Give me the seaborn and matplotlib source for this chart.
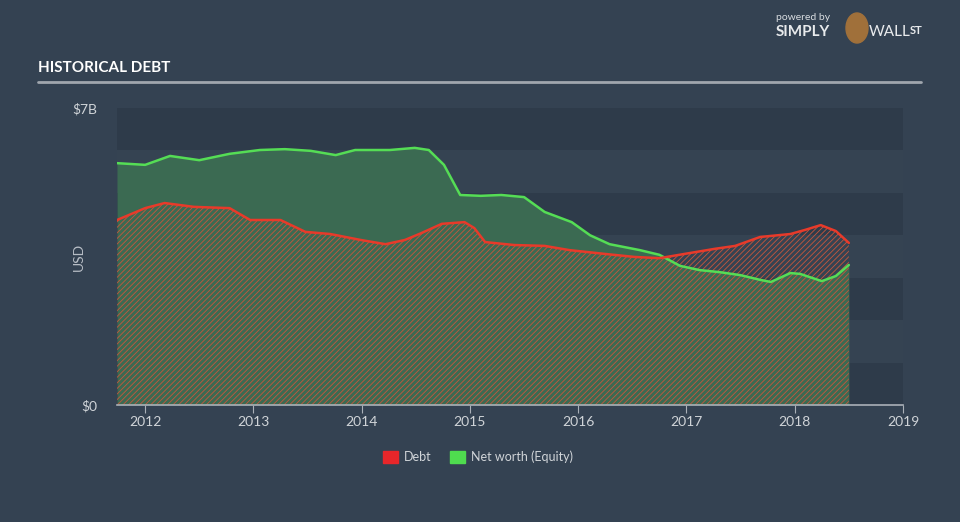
import pandas as pd
import matplotlib.pyplot as plt
import seaborn as sns
from matplotlib.patches import Patch, Ellipse

# Values (year as decimal, USD billions)
debt_year = [2011.74, 2012.0, 2012.18, 2012.45, 2012.78, 2012.97, 2013.25, 2013.48,
             2013.71, 2013.99, 2014.22, 2014.40, 2014.55, 2014.74, 2014.95, 2015.04,
             2015.14, 2015.41, 2015.69, 2015.92, 2016.25, 2016.52, 2016.75, 2016.98,
             2017.26, 2017.45, 2017.68, 2017.96, 2018.10, 2018.24, 2018.38, 2018.50]
debt_val = [4.36, 4.64, 4.76, 4.67, 4.64, 4.36, 4.36, 4.08,
            4.03, 3.89, 3.79, 3.89, 4.05, 4.27, 4.31, 4.17,
            3.84, 3.77, 3.75, 3.65, 3.56, 3.49, 3.46, 3.56,
            3.68, 3.75, 3.96, 4.03, 4.13, 4.24, 4.10, 3.82]

equity_year = [2011.74, 2012.0, 2012.23, 2012.50, 2012.78, 2013.06, 2013.29, 2013.53,
               2013.76, 2013.94, 2014.26, 2014.49, 2014.62, 2014.76, 2014.91, 2015.10,
               2015.29, 2015.50, 2015.69, 2015.94, 2016.11, 2016.29, 2016.57, 2016.75,
               2016.94, 2017.12, 2017.31, 2017.50, 2017.68, 2017.78, 2017.96, 2018.05,
               2018.25, 2018.38, 2018.50]
equity_val = [5.70, 5.66, 5.87, 5.77, 5.92, 6.01, 6.03, 5.99,
              5.89, 6.01, 6.01, 6.06, 6.01, 5.66, 4.95, 4.93,
              4.95, 4.90, 4.55, 4.31, 4.00, 3.79, 3.65, 3.54,
              3.28, 3.18, 3.13, 3.06, 2.95, 2.90, 3.11, 3.09,
              2.92, 3.04, 3.30]

year_ticks = [2012, 2013, 2014, 2015, 2016, 2017, 2018, 2019]

debt = pd.DataFrame({"year": debt_year, "value": debt_val})
equity = pd.DataFrame({"year": equity_year, "value": equity_val})

bg = "#344252"
sns.set_style("dark", {"axes.facecolor": "#354352", "figure.facecolor": bg})
plt.rcParams["font.family"] = ["Lato", "DejaVu Sans"]
plt.rcParams["hatch.linewidth"] = 0.6

fig = plt.figure(figsize=(9.6, 5.22), dpi=100)
ax = fig.add_axes([117 / 960, 1 - 405 / 522, 786 / 960, 297 / 522])

# alternating horizontal bands
for b in [0, 2, 4, 6]:
    ax.axhspan(b, b + 1, color="#2e3b4a", lw=0, zorder=0)

# fills
ax.fill_between(equity["year"], 0, equity["value"], color="#3b6a52", lw=0, zorder=1)
ax.fill_between(debt["year"], 0, debt["value"], facecolor="none",
                edgecolor="#c8563c", hatch="//////", lw=0, zorder=2)

sns.lineplot(data=equity, x="year", y="value", color="#55dd55", lw=1.8, ax=ax, zorder=3)
sns.lineplot(data=debt, x="year", y="value", color="#e83a2a", lw=1.8, ax=ax, zorder=3)

ax.set_xlim(2011.74, 2019.0)
ax.set_ylim(0, 7)
ax.set_xticks(year_ticks)
ax.set_xticklabels([str(y) for y in year_ticks], color="#d0d4d8", fontsize=10)
ax.set_yticks([0, 7])
ax.set_yticklabels(["$0", "$7B"], color="#d0d4d8", fontsize=10)
ax.tick_params(axis="x", length=6, color="#aab0b8", direction="out", bottom=True, pad=2)
ax.tick_params(axis="y", length=0, pad=14)
ax.set_xlabel("")
ax.set_ylabel("USD", color="#b8bec6", fontsize=10)
ax.yaxis.set_label_coords(-32 / 786, 0.5)
for s in ["top", "right", "left"]:
    ax.spines[s].set_visible(False)
ax.spines["bottom"].set_color("#aab0b8")
ax.spines["bottom"].set_linewidth(1.2)
ax.grid(False)

# header
fig.text(38 / 960, 1 - 68 / 522, "HISTORICAL DEBT", color="white", fontsize=11,
         fontweight="bold", family=["Lato", "DejaVu Sans"],
         va="center", ha="left")
fig.add_artist(plt.Line2D([38 / 960, 921 / 960], [1 - 82 / 522, 1 - 82 / 522],
                          color="#a0a6ae", lw=2))
fig.text(776 / 960, 1 - 18 / 522, "powered by", color="#d8dce0", fontsize=7.5,
         ha="left", va="center")
fig.text(776 / 960, 1 - 32 / 522, "SIMPLY", color="#e8eaec", fontsize=11,
         fontweight="bold", ha="left", va="center")
fig.add_artist(Ellipse((857 / 960, 1 - 28 / 522), 22 / 960, 30 / 522,
                       color="#a0703a", transform=fig.transFigure))
fig.text(869 / 960, 1 - 32 / 522, "WALL", color="#e8eaec", fontsize=11,
         ha="left", va="center")
fig.text(910 / 960, 1 - 30 / 522, "ST", color="#e8eaec", fontsize=8,
         fontweight="bold", ha="left", va="center")

# legend
handles = [Patch(color="#e8262a", label="Debt"), Patch(color="#4fdc4f", label="Net worth (Equity)")]
fig.legend(handles=handles, loc="center", bbox_to_anchor=(478 / 960, 1 - 457 / 522),
           ncol=2, frameon=False, fontsize=9, labelcolor="#d0d4d8",
           handlelength=1.2, handleheight=1.2, columnspacing=1.5, handletextpad=0.5)

fig.savefig("out.png", dpi=100, facecolor=bg)
